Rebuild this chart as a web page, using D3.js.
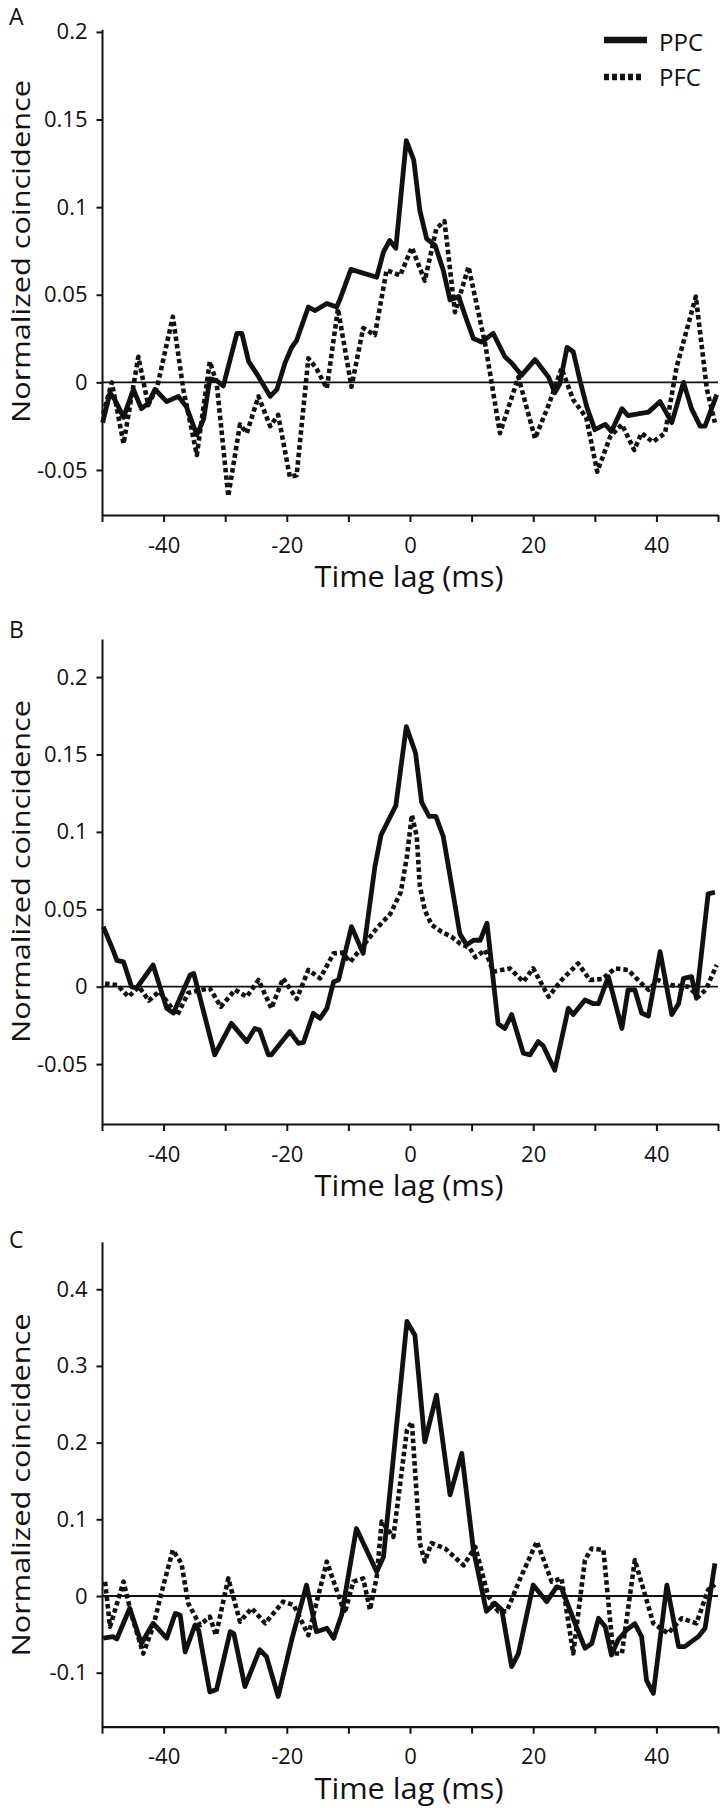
<!DOCTYPE html>
<html>
<head>
<meta charset="utf-8">
<script src="https://cdn.jsdelivr.net/npm/d3@7"></script>
<style>
html,body{margin:0;padding:0;background:#fff;}
svg{display:block;}
text{font-family:"Open Sans","Noto Sans",sans-serif;fill:#111;}
</style>
</head>
<body>
<svg id="chart" width="720" height="1811"></svg>
<script>
// ---------- DATA ----------
const xTicks = [-50,-40,-30,-20,-10,0,10,20,30,40,50];
const xTickLabels = ["","-40","","-20","","0","","20","","40",""];
const seriesNames = ["PPC","PFC"];
const panelLetters = ["A","B","C"];
const xTitle = "Time lag (ms)";
const yTitle = "Normalized coincidence";

const yTicksA = [-0.05,0,0.05,0.1,0.15,0.2];
const yTickLabelsA = ["-0.05","0","0.05","0.1","0.15","0.2"];
const yTicksB = [-0.05,0,0.05,0.1,0.15,0.2];
const yTickLabelsB = ["-0.05","0","0.05","0.1","0.15","0.2"];
const yTicksC = [-0.1,0,0.1,0.2,0.3,0.4];
const yTickLabelsC = ["-0.1","0","0.1","0.2","0.3","0.4"];

// Panel A
const lagA_PPC = [-49.9,-48.7,-47.9,-46.5,-44.9,-43.6,-42.5,-41.4,-39.5,-37.6,-36.3,-34.6,-33.5,-32.5,-31.4,-30.3,-28.1,-27.3,-26.2,-24.9,-22.7,-21.6,-20.3,-19.2,-18.4,-16.5,-15.4,-13.5,-11.9,-11.3,-9.6,-5.4,-4.3,-3.3,-2.3,-0.6,0.6,1.6,2.7,4.1,5.4,6.5,7.9,9.2,10.3,11.6,13.5,15.4,16.5,18.1,20.3,22.5,23.5,24.3,25.5,26.5,27.6,28.7,30.0,31.7,32.7,34.4,35.4,37.0,38.7,40.6,42.5,44.4,45.7,47.1,47.9,49.8];
const valA_PPC = [-0.023,-0.006,-0.010,-0.020,-0.004,-0.015,-0.012,-0.004,-0.011,-0.008,-0.014,-0.030,-0.021,0.002,0.001,-0.002,0.028,0.028,0.012,0.005,-0.008,-0.004,0.011,0.020,0.024,0.043,0.041,0.045,0.043,0.048,0.0645,0.060,0.0745,0.081,0.0765,0.138,0.127,0.098,0.082,0.078,0.064,0.047,0.049,0.0356,0.025,0.023,0.028,0.0146,0.011,0.004,0.013,0.003,-0.006,-0.001,0.020,0.0175,0.001,-0.014,-0.027,-0.024,-0.028,-0.015,-0.019,-0.018,-0.017,-0.011,-0.023,0.0,-0.015,-0.025,-0.025,-0.007];
const lagA_PFC = [-49.8,-48.4,-46.5,-44.1,-42.5,-41.0,-38.5,-36.8,-34.6,-32.5,-31.4,-29.5,-27.6,-26.5,-24.6,-22.7,-21.4,-19.5,-18.4,-16.5,-15.2,-13.5,-11.7,-9.5,-7.6,-5.7,-3.8,-1.6,0.3,2.4,4.3,5.6,7.3,9.5,12.2,14.6,17.6,20.3,22.5,24.6,26.5,28.6,30.4,32.5,34.4,36.4,37.6,39.4,41.4,43.3,46.4,48.2,49.5];
const valA_PFC = [-0.018,0.0,-0.035,0.0146,-0.013,-0.002,0.0375,-0.004,-0.0415,0.0118,0.0,-0.065,-0.024,-0.029,-0.008,-0.025,-0.0186,-0.054,-0.053,0.0137,0.008,-0.0034,0.042,-0.0025,0.031,0.027,0.064,0.061,0.077,0.058,0.088,0.092,0.040,0.066,0.022,-0.029,0.003,-0.032,-0.013,0.008,-0.010,-0.020,-0.051,-0.031,-0.024,-0.0386,-0.029,-0.034,-0.029,0.009,0.049,-0.004,-0.023];

// Panel B
const lagB_PPC = [-49.8,-48.1,-47.6,-46.5,-45.2,-44.4,-41.7,-39.5,-38.4,-35.7,-35.1,-31.7,-29.0,-26.5,-25.2,-24.4,-23.0,-22.5,-19.5,-18.1,-17.3,-15.7,-14.6,-13.5,-12.4,-11.6,-9.5,-7.6,-5.7,-4.7,-2.3,-0.6,0.9,1.9,3.1,4.2,5.4,7.0,8.1,9.2,10.3,11.4,12.5,14.3,15.4,16.5,18.4,19.5,20.8,21.6,23.5,24.6,25.7,26.5,28.4,29.8,30.6,32.2,34.4,35.4,36.5,37.6,38.7,40.6,42.5,43.6,44.4,45.7,46.5,48.4,49.5];
const valB_PPC = [0.0388,0.0226,0.017,0.016,0.0,-0.001,0.014,-0.014,-0.017,0.0075,0.0085,-0.044,-0.0237,-0.0355,-0.027,-0.028,-0.044,-0.044,-0.029,-0.0366,-0.036,-0.0172,-0.0205,-0.014,0.0032,0.0043,0.0388,0.0215,0.0775,0.098,0.117,0.168,0.151,0.119,0.110,0.110,0.097,0.060,0.034,0.027,0.030,0.030,0.041,-0.024,-0.027,-0.018,-0.043,-0.044,-0.0355,-0.038,-0.054,-0.034,-0.014,-0.018,-0.0086,-0.011,-0.011,0.0065,-0.027,-0.002,-0.002,-0.017,-0.019,0.0226,-0.018,-0.011,0.0054,0.0065,-0.0075,0.060,0.061];
const lagB_PFC = [-49.5,-47.5,-45.7,-44.0,-42.4,-40.7,-37.8,-36.0,-32.5,-30.7,-28.4,-26.5,-24.6,-22.5,-20.6,-18.4,-16.5,-14.6,-12.4,-11.0,-9.7,-7.3,-5.4,-3.2,-1.5,-0.5,0.3,1.1,1.6,2.4,3.5,5.1,6.8,8.1,9.7,10.6,12.2,13.5,16.2,18.4,20.0,22.5,24.6,27.3,29.2,31.2,33.3,35.4,37.6,38.7,40.3,42.5,45.2,46.8,48.0,49.8];
const valB_PFC = [0.002,0.001,-0.0065,0.0,-0.009,-0.003,-0.0185,-0.004,-0.001,-0.013,-0.002,-0.0065,0.0043,-0.014,0.0054,-0.008,0.0108,0.0054,0.0215,0.022,0.016,0.028,0.0377,0.047,0.061,0.084,0.111,0.097,0.065,0.0495,0.040,0.0355,0.032,0.028,0.025,0.019,0.0237,0.0097,0.0118,0.0032,0.0118,-0.0065,0.0043,0.015,0.0043,0.005,0.0118,0.0108,0.002,-0.002,0.0043,0.001,0.0,-0.0065,-0.002,0.014];

// Panel C
const lagC_PPC = [-49.8,-48.2,-47.6,-45.5,-43.6,-41.7,-39.5,-38.1,-37.3,-36.5,-34.9,-34.3,-32.5,-31.4,-29.2,-28.6,-26.8,-24.4,-23.3,-21.4,-19.2,-16.8,-15.2,-13.5,-12.4,-11.1,-8.7,-5.4,-4.3,-0.5,0.8,2.4,4.3,6.5,8.4,10.3,12.4,13.8,14.9,16.5,17.6,20.0,22.2,23.8,24.6,27.1,28.4,29.5,30.6,31.7,32.7,33.8,35.2,36.5,37.6,38.4,39.5,41.7,43.6,44.6,46.8,47.9,49.5];
const valC_PPC = [-0.055,-0.053,-0.056,-0.016,-0.062,-0.0356,-0.055,-0.0226,-0.025,-0.073,-0.0378,-0.045,-0.125,-0.122,-0.0465,-0.049,-0.118,-0.070,-0.079,-0.131,-0.057,0.0143,-0.0465,-0.042,-0.055,-0.0248,0.088,0.0317,0.0513,0.358,0.340,0.201,0.262,0.132,0.186,0.060,-0.020,-0.0096,-0.018,-0.092,-0.075,0.0143,-0.0074,0.012,0.010,-0.042,-0.068,-0.062,-0.029,-0.040,-0.077,-0.057,-0.044,-0.036,-0.053,-0.110,-0.127,0.0143,-0.066,-0.066,-0.053,-0.042,0.0426];
const lagC_PFC = [-49.5,-48.7,-46.5,-45.2,-43.3,-41.7,-40.3,-38.5,-37.1,-36.0,-34.1,-32.5,-31.5,-29.5,-27.6,-25.7,-23.5,-20.6,-18.9,-16.5,-13.5,-10.6,-9.2,-7.6,-6.5,-5.4,-4.6,-2.7,-0.5,0.3,1.6,2.4,3.5,5.7,8.7,10.6,12.7,14.3,15.7,17.9,20.6,23.0,24.6,26.5,28.4,29.5,31.4,33.0,34.4,36.5,39.5,41.9,44.1,46.5,48.4,49.5];
const valC_PFC = [0.0187,-0.040,0.0187,-0.025,-0.075,-0.040,0.0056,0.060,0.0426,-0.0096,-0.038,-0.027,-0.051,0.023,-0.0335,-0.016,-0.0356,-0.0074,-0.0117,-0.051,0.0448,-0.0226,0.0187,0.023,-0.018,0.025,0.097,0.077,0.216,0.227,0.069,0.045,0.069,0.062,0.040,0.064,0.0,-0.020,-0.020,0.023,0.071,0.0187,0.023,-0.075,0.047,0.062,0.060,-0.075,-0.075,0.047,-0.0356,-0.0487,-0.029,-0.0356,0.008,0.015];

// ---------- LAYOUT ----------
const panels = [
  {letter:panelLetters[0], domain:[-0.0757,0.2015], range:[515,29.3], yTicks:yTicksA, yLabels:yTickLabelsA,
   ppc:[lagA_PPC,valA_PPC], pfc:[lagA_PFC,valA_PFC], letterY:24.5, yTitleY:251.5, legend:true},
  {letter:panelLetters[1], domain:[-0.0887,0.2246], range:[1124,639], yTicks:yTicksB, yLabels:yTickLabelsB,
   ppc:[lagB_PPC,valB_PPC], pfc:[lagB_PFC,valB_PFC], letterY:638, yTitleY:871.5, legend:false},
  {letter:panelLetters[2], domain:[-0.1704,0.462], range:[1726.7,1241.7], yTicks:yTicksC, yLabels:yTickLabelsC,
   ppc:[lagC_PPC,valC_PPC], pfc:[lagC_PFC,valC_PFC], letterY:1248, yTitleY:1485, legend:false}
];

const svg = d3.select("#chart");
const x = d3.scaleLinear().domain([-50,50]).range([102,718]);

panels.forEach(p => {
  const y = d3.scaleLinear().domain(p.domain).range(p.range);
  const g = svg.append("g");

  // zero line
  g.append("line")
    .attr("x1", x(-50)).attr("x2", x(50))
    .attr("y1", y(0)).attr("y2", y(0))
    .attr("stroke","#111").attr("stroke-width",1.8);

  // series
  const line = d3.line().x(d => x(d[0])).y(d => y(d[1]));
  const pfcData = p.pfc[0].map((l,i) => [l, p.pfc[1][i]]);
  const ppcData = p.ppc[0].map((l,i) => [l, p.ppc[1][i]]);
  g.append("path").datum(pfcData).attr("d", line)
    .attr("fill","none").attr("stroke","#111").attr("stroke-width",4.6)
    .attr("stroke-dasharray","4.5,3").attr("stroke-linejoin","round");
  g.append("path").datum(ppcData).attr("d", line)
    .attr("fill","none").attr("stroke","#111").attr("stroke-width",4.8)
    .attr("stroke-linejoin","round");

  // y axis
  const yAxis = d3.axisLeft(y).tickValues(p.yTicks)
    .tickFormat((d,i) => p.yLabels[i]).tickSize(5.5).tickSizeOuter(0).tickPadding(9);
  const ya = g.append("g").attr("transform",`translate(${x(-50)},0)`).call(yAxis);
  ya.select(".domain").attr("stroke","#111").attr("stroke-width",2);
  ya.selectAll(".tick line").attr("stroke","#111").attr("stroke-width",2);
  ya.selectAll(".tick text").attr("font-size",22).attr("font-family","Open Sans, Noto Sans, sans-serif").attr("fill","#111");

  // x axis
  const xAxis = d3.axisBottom(x).tickValues(xTicks)
    .tickFormat((d,i) => xTickLabels[i]).tickSize(7).tickSizeOuter(0).tickPadding(15);
  const xa = g.append("g").attr("transform",`translate(0,${p.range[0]})`).call(xAxis);
  xa.select(".domain").attr("stroke","#111").attr("stroke-width",2.2);
  xa.selectAll(".tick line").attr("stroke","#111").attr("stroke-width",2);
  xa.selectAll(".tick text").attr("font-size",22).attr("font-family","Open Sans, Noto Sans, sans-serif").attr("fill","#111");

  // x title
  g.append("text").attr("x", x(0) - 1).attr("y", p.range[0] + 72)
    .attr("text-anchor","middle").attr("font-size",29)
    .attr("textLength",189).attr("lengthAdjust","spacingAndGlyphs")
    .text(xTitle);

  // y title
  g.append("text").attr("transform",`translate(30,${p.yTitleY}) rotate(-90)`)
    .attr("text-anchor","middle").attr("font-size",26)
    .attr("font-family","Lato, Open Sans, sans-serif")
    .attr("textLength",343).attr("lengthAdjust","spacingAndGlyphs")
    .text(yTitle);

  // panel letter
  g.append("text").attr("x",9).attr("y",p.letterY).attr("font-size",23)
    .attr("font-family","Lato, Open Sans, sans-serif").text(p.letter);

  if (p.legend) {
    const lg = g.append("g");
    lg.append("line").attr("x1",604).attr("x2",647).attr("y1",40).attr("y2",40)
      .attr("stroke","#111").attr("stroke-width",6.5);
    lg.append("text").attr("x",659).attr("y",50.5).attr("font-size",24).text(seriesNames[0]);
    lg.append("line").attr("x1",604).attr("x2",644).attr("y1",77).attr("y2",77)
      .attr("stroke","#111").attr("stroke-width",6.5).attr("stroke-dasharray","5,3");
    lg.append("text").attr("x",659).attr("y",86).attr("font-size",24).text(seriesNames[1]);
  }
});
</script>
</body>
</html>
